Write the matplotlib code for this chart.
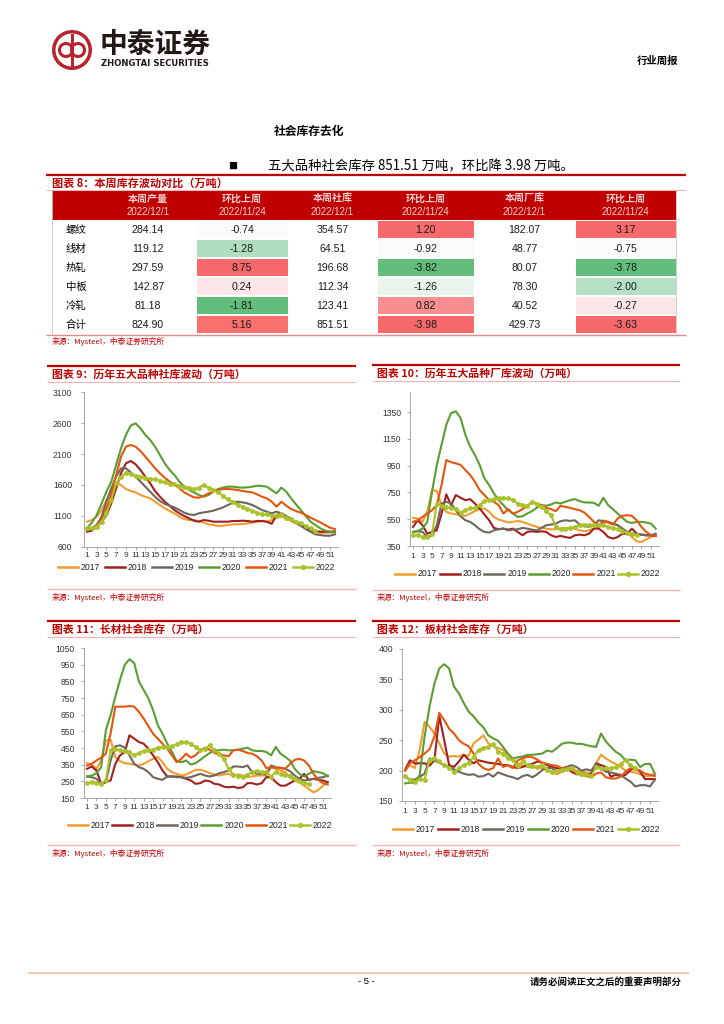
import numpy as np
import matplotlib
matplotlib.use("Agg")
import matplotlib.pyplot as plt
from matplotlib.patches import Rectangle, Circle
from matplotlib.lines import Line2D

CJK = ['Noto Sans CJK SC', 'DejaVu Sans']
NUM = ['Liberation Sans', 'DejaVu Sans']
plt.rcParams['font.family'] = CJK

# ---------------- data ----------------
years = ['2017', '2018', '2019', '2020', '2021', '2022']
year_colors = ['#F29B2E', '#A0201E', '#6F665E', '#5A9D32', '#E4560E', '#ABC22B']

# Table (图表8)
row_labels = ['螺纹', '线材', '热轧', '中板', '冷轧', '合计']
col_heads = ['本周产量', '环比上周', '本周社库', '环比上周', '本周厂库', '环比上周']
col_dates = ['2022/12/1', '2022/11/24', '2022/12/1', '2022/11/24', '2022/12/1', '2022/11/24']
prod_now = ['284.14', '119.12', '297.59', '142.87', '81.18', '824.90']
prod_chg = ['-0.74', '-1.28', '8.75', '0.24', '-1.81', '5.16']
soc_now = ['354.57', '64.51', '196.68', '112.34', '123.41', '851.51']
soc_chg = ['1.20', '-0.92', '-3.82', '-1.26', '0.82', '-3.98']
fac_now = ['182.07', '48.77', '80.07', '78.30', '40.52', '429.73']
fac_chg = ['3.17', '-0.75', '-3.78', '-2.00', '-0.27', '-3.63']
prod_chg_colors = ['#FBFBFE', '#B1DDBF', '#F8696B', '#FCE6E8', '#63BE7B', '#F8716F']
soc_chg_colors = ['#F8696B', '#FBFBFE', '#63BE7B', '#E8F4EC', '#F98E90', '#F8696B']
fac_chg_colors = ['#F8696B', '#FBFBFE', '#63BE7B', '#B5E0C3', '#FCE6E8', '#F8696B']

# 图表9 五大品种社库 (万吨)
soc_2017 = [1005,1032,1086,1194,1356,1491,1626,1599,1534,1502,1480,1437,1410,1383,1329,1275,1221,1178,1140,1086,
            1048,1032,1032,1016,989,962,951,935,940,951,962,962,967,978,989,1005,1016,1005,1032,1070,
            1086,1059,1016,978,940,897,859,832,827,827,832,832]
soc_2018 = [843,859,924,1005,1113,1302,1545,1788,1950,1988,1934,1842,1734,1626,1502,1410,1329,1264,1194,1140,
            1097,1059,1021,1005,1032,1021,1005,1005,1005,1005,1016,1016,1021,1016,1005,1016,1016,1005,970,1113,
            1140,1086,1032,989,951,908,870,854,843,843,843,848]
soc_2019 = [859,886,951,1086,1329,1545,1734,1869,1869,1804,1734,1653,1572,1491,1410,1340,1291,1264,1237,1194,
            1151,1124,1113,1140,1156,1167,1183,1210,1237,1275,1313,1329,1318,1302,1275,1237,1194,1167,1140,1167,
            1140,1097,1048,994,940,886,843,800,789,778,778,800]
soc_2020 = [897,990,1113,1300,1491,1653,1923,2193,2409,2560,2598,2517,2409,2328,2220,2085,1950,1842,1761,1653,
            1572,1518,1480,1437,1410,1437,1491,1534,1556,1572,1572,1561,1556,1561,1572,1588,1583,1572,1518,1464,
            1556,1491,1383,1286,1194,1097,1005,951,897,859,843,832]
soc_2021 = [870,897,951,1032,1221,1437,1761,2058,2220,2247,2220,2150,2058,1966,1869,1788,1718,1653,1610,1545,
            1480,1437,1399,1394,1421,1464,1491,1518,1534,1534,1529,1518,1502,1491,1480,1448,1410,1383,1329,1248,
            1329,1264,1210,1178,1151,1113,1070,1032,994,951,908,886]
soc_2022 = [897,897,924,1005,1140,1356,1626,1734,1788,1772,1750,1729,1718,1696,1696,1669,1642,1610,1610,1583,
            1567,1556,1534,1556,1599,1556,1518,1480,1421,1367,1329,1275,1243,1210,1178,1151,1124,1124,1102,1102,
            1124,1070,1043,1005,978,940,895,852]

# 图表10 五大品种厂库 (万吨)
fac_2017 = [560,555,530,605,767,760,655,605,592,587,580,575,592,610,625,630,605,567,547,537,
            525,530,537,530,517,505,492,485,480,475,475,480,485,485,480,467,460,467,480,492,
            542,530,517,505,480,455,417,385,380,400,417,430]
fac_2018 = [492,542,505,442,455,467,592,735,655,730,710,692,700,667,630,585,542,485,475,480,
            472,480,455,430,455,460,455,460,455,430,417,425,417,410,430,435,430,442,480,480,
            455,417,405,417,442,442,480,442,435,430,430,425]
fac_2019 = [455,460,455,417,430,505,667,680,667,617,572,542,530,505,475,455,450,467,475,480,
            467,472,475,485,480,472,467,485,505,510,517,535,542,537,542,510,500,492,505,542,
            535,530,517,505,480,455,430,435,435,430,430,442]
fac_2020 = [455,462,480,530,755,955,1105,1255,1342,1355,1305,1180,1092,1030,955,855,805,742,692,655,
            617,592,567,572,592,610,635,655,650,660,675,667,680,692,700,685,675,675,672,650,
            710,655,625,592,560,530,522,530,530,525,517,480]
fac_2021 = [530,542,567,592,617,655,805,992,975,967,955,917,880,830,767,730,692,680,655,592,
            625,592,605,625,650,675,667,655,635,625,610,650,642,635,625,617,600,567,530,505,
            530,525,510,555,575,580,575,542,492,455,430,425]
fac_2022 = [430,430,417,417,442,667,650,642,635,625,600,617,630,635,655,685,692,700,705,710,
            705,692,667,655,650,680,660,642,610,580,492,475,480,485,492,505,510,505,510,510,
            505,492,485,475,460,450,442,430]

# 图表11 长材社会库存 (万吨)
long_2017 = [359,351,325,375,496,500,396,371,359,355,351,345,355,371,385,396,365,325,305,295,
             285,291,305,319,319,311,299,291,285,291,295,285,291,285,275,279,285,285,285,335,
             325,315,305,275,255,245,224,204,184,198,224,245]
long_2018 = [325,339,315,235,245,255,355,406,426,526,506,486,476,446,406,365,315,279,279,279,
             275,265,255,235,239,255,251,235,231,218,214,218,210,214,239,239,231,239,275,275,
             245,224,224,239,255,265,295,259,265,259,255,245]
long_2019 = [279,275,265,235,245,375,460,466,452,406,355,335,325,305,275,265,259,279,279,275,
             275,271,275,285,295,285,279,285,299,305,315,339,339,335,345,305,295,295,291,345,
             335,331,325,311,285,265,255,259,265,271,275,285]
long_2020 = [279,285,299,335,557,647,758,859,949,983,959,849,798,748,677,587,536,476,426,371,
             365,375,351,359,379,400,420,436,436,440,436,436,440,446,452,436,432,432,426,406,
             456,416,396,375,325,295,279,295,311,305,299,279]
long_2021 = [345,355,375,392,416,537,698,698,698,702,698,667,627,581,536,506,476,446,406,365,
             385,416,392,406,436,452,440,420,412,406,400,436,440,432,420,416,400,375,329,335,
             331,331,325,355,379,385,375,345,295,259,239,231]
long_2022 = [239,245,239,235,259,436,446,436,432,426,406,420,432,436,440,452,456,456,460,472,
             486,486,476,456,436,446,466,436,416,385,325,291,285,279,291,305,311,305,305,279,
             305,295,291,285,265,255,239,235]

# 图表12 板材社会库存 (万吨)
flat_2017 = [200,209,204,234,280,272,261,245,228,223,224,223,226,224,245,251,258,245,240,237,
             234,226,217,212,209,206,205,205,204,201,197,194,198,201,204,200,198,197,195,212,
             226,220,215,211,206,200,198,197,194,191,191,195]
flat_2018 = [201,217,212,212,212,208,217,290,250,209,206,215,226,218,212,217,215,213,212,211,
             209,209,206,204,206,209,211,215,213,209,206,204,201,204,198,194,194,195,194,212,
             209,206,190,193,191,193,201,204,198,186,186,186]
flat_2019 = [189,186,185,190,195,220,217,213,209,206,202,198,195,193,194,190,191,195,190,197,
             194,191,189,186,191,193,189,194,201,204,204,198,204,206,209,206,200,202,200,211,
             204,198,197,195,193,187,182,174,176,176,174,185]
flat_2020 = [179,180,180,193,256,305,343,368,375,368,338,327,311,297,289,279,271,258,253,249,
             239,228,220,222,223,226,226,227,228,233,231,237,244,246,246,244,244,242,240,239,
             261,248,239,231,226,217,218,217,206,211,211,195]
flat_2021 = [200,212,217,222,228,235,256,295,283,269,261,250,244,240,228,211,204,201,204,220,
             206,209,204,217,220,223,222,218,213,211,209,208,204,204,200,198,193,191,189,195,
             197,189,187,187,190,198,204,202,200,195,193,191]
flat_2022 = [191,185,182,186,185,217,220,215,209,205,197,204,209,213,223,234,237,239,244,231,
             228,220,217,208,215,209,208,206,209,201,197,200,201,202,204,198,194,195,191,206,
             204,204,204,206,211,217,209,204]

week_tick_labels = [str(w) for w in range(1, 52, 2)]

# ---------------- figure ----------------
W, H = 724, 1024
fig = plt.figure(figsize=(7.24, 10.24), dpi=100)
fig.patch.set_facecolor('white')
page = fig.add_axes([0, 0, 1, 1])
page.set_xlim(0, W)
page.set_ylim(H, 0)
page.axis('off')

RED = '#C00000'
PINK = '#F0B4B4'

def hline(y, x0, x1, color, lw):
    page.add_line(Line2D([x0, x1], [y, y], color=color, lw=lw, solid_capstyle='butt'))

def txt(x, y, s, size, color='black', ha='left', weight='normal', family=CJK, **kw):
    page.text(x, y, s, fontsize=size, color=color, ha=ha, va='center',
              fontweight=weight, family=family, **kw)

# ---- header / logo ----
page.add_patch(Circle((72, 50), 20, fc='#B8242C', ec='none'))
page.add_patch(Circle((72, 50), 16.5, fc='white', ec='none'))
page.add_patch(Circle((66, 50), 6.5, fc='none', ec='#B8242C', lw=2.2))
page.add_patch(Circle((78, 50), 6.5, fc='none', ec='#B8242C', lw=2.2))
page.add_line(Line2D([72, 72], [35, 65], color='#B8242C', lw=2.2))
txt(100, 45, '中泰证券', 20, color='#231815', weight='bold')
txt(101, 63.5, 'ZHONGTAI SECURITIES', 6.1, color='#231815', weight='bold', family=['DejaVu Sans'])
txt(678, 61, '行业周报', 7.5, ha='right', weight='bold')

txt(309, 131, '社会库存去化', 8.5, ha='center', weight='bold')
txt(233, 166, '■', 6.5, ha='center')
txt(268, 166, '五大品种社会库存 851.51 万吨，环比降 3.98 万吨。', 9.6)

# ---- table 8 ----
hline(175, 46, 686, RED, 1.6)
txt(52, 183, '图表 8：本周库存波动对比（万吨）', 8.0, color=RED, weight='bold')
hline(189.5, 46, 686, PINK, 0.8)

cx = [52, 100, 196, 288, 377, 474, 575, 676]
page.add_patch(Rectangle((cx[0], 191), cx[-1] - cx[0], 29, fc=RED, ec='none'))
for j in range(6):
    c = (cx[j + 1] + cx[j + 2]) / 2
    txt(c, 199, col_heads[j], 7.2, color='#F2D2D2', ha='center', weight='bold')
    txt(c, 212, col_dates[j], 7.0, color='#F2D2D2', ha='center', family=NUM)

cols_vals = [prod_now, prod_chg, soc_now, soc_chg, fac_now, fac_chg]
cols_colors = {1: prod_chg_colors, 3: soc_chg_colors, 5: fac_chg_colors}
row_h = 19
for i, lab in enumerate(row_labels):
    y0 = 220 + i * row_h
    yc = y0 + row_h / 2 + 0.5
    txt(66, yc, lab, 7.5)
    for j in range(6):
        x0, x1 = cx[j + 1], cx[j + 2]
        if j in cols_colors:
            page.add_patch(Rectangle((x0 + 0.5, y0 + 0.6), x1 - x0 - 1, row_h - 1.2,
                                     fc=cols_colors[j][i], ec='none'))
        txt((x0 + x1) / 2, yc, cols_vals[j][i], 7.6, color='#1A1A1A', ha='center', family=NUM)
page.add_line(Line2D([cx[0], cx[0]], [191, 334], color='#C8C8C8', lw=0.6))
page.add_line(Line2D([cx[-1], cx[-1]], [191, 334], color='#C8C8C8', lw=0.6))
hline(334.5, 46, 686, '#E58A8A', 1.0)
txt(52, 341, '来源：Mysteel，中泰证券研究所', 5.6, color=RED)

# ---- charts ----
def chart(block_x0, block_x1, top_y, title, series, ylim, yticks, x1, pw, axis_top, axis_bot,
          leg_x0, leg_y, leg_step, src_line_y, ypad, xpad):
    hline(top_y, block_x0, block_x1, RED, 1.6)
    tx = 52 if block_x0 < 200 else 377
    txt(tx, top_y + 9, title, 7.8, color=RED, weight='bold')
    hline(top_y + 16, block_x0, block_x1, PINK, 0.8)
    hline(src_line_y, block_x0, block_x1, PINK, 1.0)
    txt(tx, src_line_y + 8, '来源：Mysteel，中泰证券研究所', 5.6, color=RED)

    xl = (0.4, 52.6)
    left = x1 + (xl[0] - 1) * pw
    right = x1 + (xl[1] - 1) * pw
    ax = fig.add_axes([left / W, 1 - axis_bot / H, (right - left) / W, (axis_bot - axis_top) / H])
    ax.set_facecolor('none')
    for k, vals in enumerate(series):
        wk = np.arange(1, len(vals) + 1)
        if years[k] == '2022':
            ax.plot(wk, vals, color=year_colors[k], lw=1.5, marker='o', ms=3.5, mew=0, zorder=5)
        else:
            ax.plot(wk, vals, color=year_colors[k], lw=1.5, zorder=2 + k * 0.1)
    ax.set_xlim(*xl)
    ax.set_ylim(*ylim)
    ax.set_yticks(yticks)
    ax.set_yticklabels([str(v) for v in yticks], family=NUM, fontsize=6.2, color='#333333')
    ax.set_xticks(range(1, 52, 2))
    ax.set_xticklabels(week_tick_labels, family=NUM, fontsize=6.0, color='#333333')
    ax.tick_params(axis='y', length=2, width=0.6, color='#999999', pad=ypad)
    ax.tick_params(axis='x', length=2, width=0.6, color='#999999', pad=xpad)
    for s in ('top', 'right'):
        ax.spines[s].set_visible(False)
    for s in ('left', 'bottom'):
        ax.spines[s].set_color('#A6A6A6')
        ax.spines[s].set_linewidth(0.7)

    for k, yr in enumerate(years):
        lx = leg_x0 + k * leg_step
        page.add_line(Line2D([lx, lx + 20], [leg_y, leg_y], color=year_colors[k], lw=1.8))
        if yr == '2022':
            page.add_line(Line2D([lx + 10], [leg_y], color=year_colors[k], marker='o', ms=3.8, mew=0))
        txt(lx + 23, leg_y, yr, 6.2, family=NUM, color='#222222')
    return ax

chart(47, 356, 366, '图表 9：历年五大品种社库波动（万吨）',
      [soc_2017, soc_2018, soc_2019, soc_2020, soc_2021, soc_2022],
      (600, 3100), list(range(600, 3101, 500)), 87, 4.86, 392.3, 546.7,
      58, 567, 47, 589, 6.5, 1.5)
chart(372, 680, 365, '图表 10：历年五大品种厂库波动（万吨）',
      [fac_2017, fac_2018, fac_2019, fac_2020, fac_2021, fac_2022],
      (350, 1500), list(range(350, 1351, 200)), 413, 4.76, 391.9, 546,
      395, 574, 44.6, 590, 4.5, 3)
chart(47, 356, 621, '图表 11：长材社会库存（万吨）',
      [long_2017, long_2018, long_2019, long_2020, long_2021, long_2022],
      (150, 1050), list(range(150, 1051, 100)), 87, 4.72, 648, 798,
      68, 825, 44.4, 845, 4.5, 2)
chart(372, 680, 621, '图表 12：板材社会库存（万吨）',
      [flat_2017, flat_2018, flat_2019, flat_2020, flat_2021, flat_2022],
      (150, 400), list(range(150, 401, 50)), 405, 4.9, 649, 801,
      393, 829, 45, 845, 4.5, 3)

# ---- footer ----
hline(973, 28, 689, '#F2C9AE', 1.4)
txt(366, 982, '- 5 -', 6.8, ha='center', family=NUM)
txt(682, 982, '请务必阅读正文之后的重要声明部分', 6.8, ha='right', weight='bold')

fig.savefig('out.png', dpi=100, facecolor='white')
